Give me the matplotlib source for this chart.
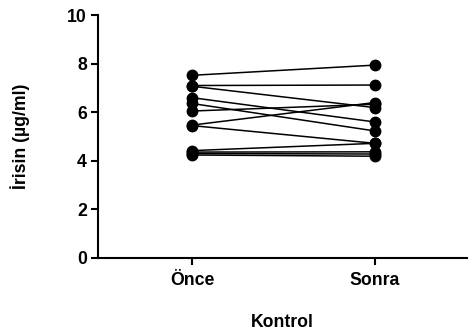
import numpy as np
import matplotlib
matplotlib.use("Agg")
import matplotlib.pyplot as plt

plt.rcParams['font.family'] = ['Liberation Sans', 'DejaVu Sans']
plt.rcParams['font.weight'] = 'bold'

grupe = ["Önce", "Sonra"]
once = [7.52, 7.10, 7.07, 6.60, 6.36, 6.05, 5.47, 5.45, 4.42, 4.36, 4.30, 4.24]
sonra = [7.94, 7.12, 6.19, 5.60, 5.23, 6.33, 6.40, 4.72, 4.72, 4.37, 4.28, 4.19]
y_ticks = [0, 2, 4, 6, 8, 10]

fs = 12.7
fig = plt.figure(figsize=(4.72, 3.35), dpi=100)
ax = fig.add_axes([0.2076, 0.2299, 0.7814, 0.7251])

x = np.arange(len(grupe))
for a, b in zip(once, sonra):
    ax.plot(x, [a, b], color='black', lw=1.1, marker='o', ms=7.5,
            markerfacecolor='black', markeredgecolor='black', clip_on=False)

ax.set_xlim(-0.514, 1.503)
ax.set_ylim(0, 10)
ax.set_xticks(x)
ax.set_xticklabels(grupe, fontsize=fs, fontweight='bold')
ax.set_yticks(y_ticks)
ax.set_yticklabels([str(t) for t in y_ticks], fontsize=fs, fontweight='bold')
ax.set_ylabel("İrisin (µg/ml)", fontsize=fs, fontweight='bold', labelpad=27)
ax.set_xlabel("Kontrol", fontsize=fs, fontweight='bold', labelpad=18)

for s in ['top', 'right']:
    ax.spines[s].set_visible(False)
for s in ['left', 'bottom']:
    ax.spines[s].set_linewidth(1.5)
ax.tick_params(width=1.5, length=5, direction='out')
ax.tick_params(axis='x', pad=5)
ax.tick_params(axis='y', pad=3)

fig.savefig("out.png", dpi=100)
